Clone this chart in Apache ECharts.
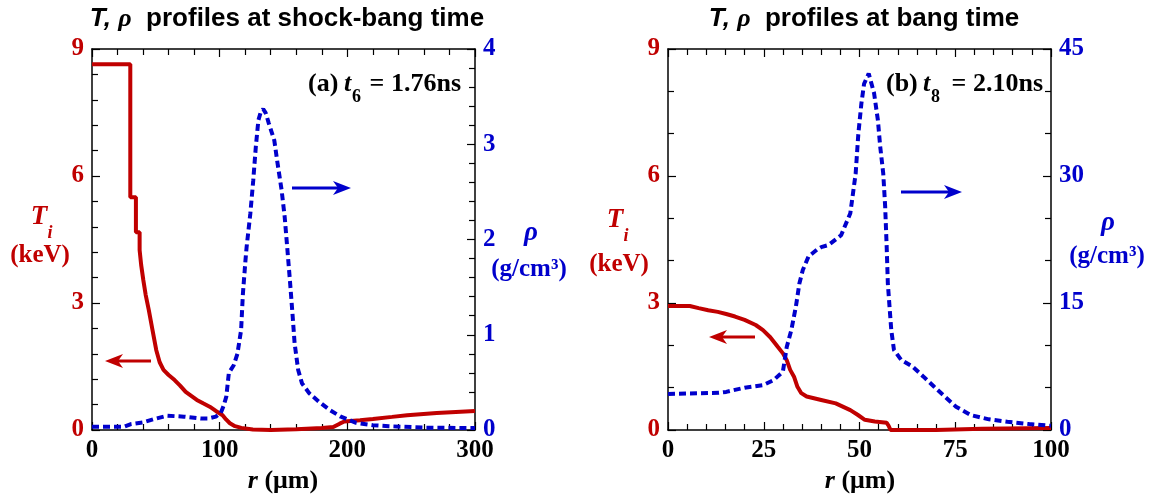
<!DOCTYPE html>
<html>
<head>
<meta charset="utf-8">
<script src="https://cdn.jsdelivr.net/npm/echarts@6/dist/echarts.min.js"></script>
<style>
html,body{margin:0;padding:0;background:#fff;}
#chart{width:1153px;height:497px;}
</style>
</head>
<body>
<div id="chart"></div>
<script>
// panel (a): shock-bang time, t6 = 1.76ns
var rA_T = [0,30,30,34.4,34.4,37.3,37.3,38.5,40.2,42,44.5,47.4,50.3,53,56,60,64.7,69,73.4,78,82.1,87,92.2,97,102.3,105,108,112,117,126,140,160,180,189,194,197.6,210,220,235,246.8,270,300];
var tA    = [8.64,8.64,5.5,5.5,4.67,4.67,4.25,3.9,3.54,3.2,2.83,2.36,1.89,1.6,1.42,1.3,1.18,1.05,0.9,0.8,0.71,0.63,0.55,0.45,0.35,0.25,0.16,0.09,0.05,0.01,0,0.02,0.05,0.07,0.15,0.2,0.23,0.26,0.31,0.35,0.4,0.45];
var rA_rho = [0,25,30,40,50,59,72,85,91,97,100.9,103,105.2,107.2,111,113.9,116.8,118.2,120.2,121.1,124,126.3,128.3,130.3,132,134.1,136,138.5,142.8,145,148.5,150.9,152.9,155.2,157.2,158.7,161.5,164.5,170.2,177.5,186.2,194.9,206.4,220,232.4,261,300];
var rhoA   = [0.035,0.035,0.06,0.08,0.12,0.15,0.14,0.12,0.12,0.14,0.18,0.25,0.35,0.6,0.68,0.8,1.05,1.43,1.78,1.92,2.27,2.62,2.97,3.25,3.33,3.37,3.33,3.22,3.04,2.83,2.52,2.24,1.92,1.54,1.19,0.91,0.63,0.49,0.385,0.3,0.21,0.14,0.077,0.05,0.04,0.025,0.02];

// panel (b): bang time, t8 = 2.10ns
var rB_T = [0,5.7,8,10.5,13,15.2,17.5,20,22.9,24.8,26.7,28.6,30,31,31.9,32.9,33.8,34.8,36.2,40,43.8,47.6,49.5,51.4,54,57.1,57.6,58.1,70,82,100];
var tB    = [2.93,2.93,2.88,2.83,2.79,2.74,2.68,2.6,2.48,2.36,2.19,1.97,1.81,1.65,1.42,1.26,1.02,0.87,0.79,0.71,0.63,0.47,0.36,0.24,0.2,0.17,0.1,0,0,0.03,0.05];
var rB_rho = [0,13.3,15.2,20,24.8,27.6,30,31,32.2,33.4,34.3,35.2,36.7,38.9,40,41.9,45.2,47.6,49,49.7,50.5,51.2,52.4,53.8,54.8,55.4,56.2,56.7,57.1,57.4,57.9,58.3,59,60.9,63.8,66.7,69.5,72.4,75.2,79,83.8,88.6,94.3,100];
var rhoB   = [4.25,4.4,4.5,5.0,5.3,5.9,6.9,9.8,11.8,14.6,17.3,18.9,20.5,21.3,21.6,21.85,23.0,25.6,30.3,35,38.6,40.9,42.1,39.8,36.6,33.5,30.3,26.4,21.6,17.3,14.2,11.8,9.45,8.27,7.5,6.3,5.1,3.9,2.75,1.77,1.26,0.98,0.7,0.5];

var RED = '#c00000', BLUE = '#0000cc';
var SERIF = 'Liberation Serif', SANS = 'Liberation Sans';

function zip(xs, ys) {
  return xs.map(function (x, i) { return [x, ys[i]]; });
}

function xAx(grid, max, step, top) {
  return {
    type: 'value', gridIndex: grid, min: 0, max: max, interval: step,
    position: top ? 'top' : 'bottom',
    axisLine: { show: true, onZero: false, lineStyle: { color: '#000', width: 1.5 } },
    axisTick: { show: true, inside: true, length: 8, lineStyle: { color: '#000', width: 1.2 } },
    minorTick: { show: true, splitNumber: 5, length: 6, lineStyle: { color: '#000', width: 1.2 } },
    splitLine: { show: false },
    axisLabel: { show: !top, color: '#000', fontFamily: SERIF, fontWeight: 'bold', fontSize: 25, margin: 8 }
  };
}

function yAx(grid, max, step, minor, right, color) {
  return {
    type: 'value', gridIndex: grid, min: 0, max: max, interval: step,
    position: right ? 'right' : 'left',
    axisLine: { show: true, onZero: false, lineStyle: { color: '#000', width: 1.5 } },
    axisTick: { show: true, inside: true, length: 8, lineStyle: { color: '#000', width: 1.2 } },
    minorTick: { show: true, splitNumber: minor, length: 6, lineStyle: { color: '#000', width: 1.2 } },
    splitLine: { show: false },
    axisLabel: { color: color, fontFamily: SERIF, fontWeight: 'bold', fontSize: 25, margin: 8 }
  };
}

function txt(x, y, s, o) {
  o = o || {};
  return {
    type: 'text', x: x, y: y, silent: true,
    style: {
      text: s, fill: o.color || '#000',
      font: (o.italic ? 'italic ' : '') + 'bold ' + (o.size || 25) + 'px "' + (o.family || SERIF) + '"',
      align: o.align || 'center', verticalAlign: 'middle', rich: o.rich
    }
  };
}

function arrow(x1, x2, y, color) {
  var d = x2 > x1 ? 1 : -1;
  return [
    { type: 'line', silent: true, shape: { x1: x1, y1: y, x2: x2 - d * 10, y2: y }, style: { stroke: color, lineWidth: 3 } },
    { type: 'polygon', silent: true, shape: { points: [[x2, y], [x2 - d * 18, y - 7], [x2 - d * 13, y], [x2 - d * 18, y + 7]] }, style: { fill: color } }
  ];
}

var titleRich = {
  i: { fontFamily: SANS, fontWeight: 'bold', fontStyle: 'italic', fontSize: 26, fill: '#000' },
  s: { fontFamily: SERIF, fontWeight: 'bold', fontStyle: 'italic', fontSize: 26, fill: '#000' },
  n: { fontFamily: SANS, fontWeight: 'bold', fontSize: 26, fill: '#000' }
};
var rRich = {
  i: { fontFamily: SERIF, fontWeight: 'bold', fontStyle: 'italic', fontSize: 26, fill: '#000' },
  n: { fontFamily: SERIF, fontWeight: 'bold', fontSize: 26, fill: '#000' }
};

var graphics = [
  txt(287, 19, '{i|T,} {s|ρ}{n|  profiles at shock-bang time}', { rich: titleRich, family: SANS, size: 26 }),
  txt(864, 19, '{i|T,} {s|ρ}{n|  profiles at bang time}', { rich: titleRich, family: SANS, size: 26 }),

  // annotations
  txt(308, 84, '(a) ', { align: 'left', size: 26 }),
  txt(344, 84, 't', { align: 'left', size: 26, italic: true }),
  txt(352, 97, '6', { align: 'left', size: 18 }),
  txt(461, 84, '= 1.76ns', { align: 'right', size: 26 }),
  txt(886, 84, '(b) ', { align: 'left', size: 26 }),
  txt(923, 84, 't', { align: 'left', size: 26, italic: true }),
  txt(931, 97, '8', { align: 'left', size: 18 }),
  txt(1043, 84, '= 2.10ns', { align: 'right', size: 26 }),

  // axis names
  txt(39, 217, 'T', { color: RED, size: 27, italic: true }),
  txt(50, 233, 'i', { color: RED, size: 18, italic: true }),
  txt(40, 256, '(keV)', { color: RED, size: 25 }),
  txt(615, 220, 'T', { color: RED, size: 27, italic: true }),
  txt(626, 236, 'i', { color: RED, size: 18, italic: true }),
  txt(619, 265, '(keV)', { color: RED, size: 25 }),
  txt(531, 233, 'ρ', { color: BLUE, size: 27, italic: true }),
  txt(529, 270, '(g/cm³)', { color: BLUE, size: 25 }),
  txt(1108, 223, 'ρ', { color: BLUE, size: 27, italic: true }),
  txt(1107, 257, '(g/cm³)', { color: BLUE, size: 25 }),
  txt(283, 481, '{i|r} {n|(μm)}', { rich: rRich, size: 26 }),
  txt(860, 481, '{i|r} {n|(μm)}', { rich: rRich, size: 26 })
];
graphics = graphics
  .concat(arrow(151, 105, 361, RED))
  .concat(arrow(292, 351, 188, BLUE))
  .concat(arrow(755, 709, 337, RED))
  .concat(arrow(901, 962, 192, BLUE));

var chart = echarts.init(document.getElementById('chart'), null, { renderer: 'canvas' });
chart.setOption({
  animation: false,
  backgroundColor: '#fff',
  grid: [
    { left: 92, top: 49, width: 383, height: 381 },
    { left: 668, top: 49, width: 383, height: 381 }
  ],
  xAxis: [xAx(0, 300, 100, false), xAx(0, 300, 100, true), xAx(1, 100, 25, false), xAx(1, 100, 25, true)],
  yAxis: [
    yAx(0, 9, 3, 5, false, RED),
    yAx(0, 4, 1, 5, true, BLUE),
    yAx(1, 9, 3, 3, false, RED),
    yAx(1, 45, 15, 3, true, BLUE)
  ],
  series: [
    { type: 'line', xAxisIndex: 0, yAxisIndex: 0, data: zip(rA_T, tA), showSymbol: false, clip: false,
      lineStyle: { color: RED, width: 4 } },
    { type: 'line', xAxisIndex: 0, yAxisIndex: 1, data: zip(rA_rho, rhoA), showSymbol: false, clip: false,
      lineStyle: { color: BLUE, width: 4, type: [7, 4] } },
    { type: 'line', xAxisIndex: 2, yAxisIndex: 2, data: zip(rB_T, tB), showSymbol: false, clip: false,
      lineStyle: { color: RED, width: 4 } },
    { type: 'line', xAxisIndex: 2, yAxisIndex: 3, data: zip(rB_rho, rhoB), showSymbol: false, clip: false,
      lineStyle: { color: BLUE, width: 4, type: [7, 4] } }
  ],
  graphic: graphics
});
</script>
</body>
</html>
